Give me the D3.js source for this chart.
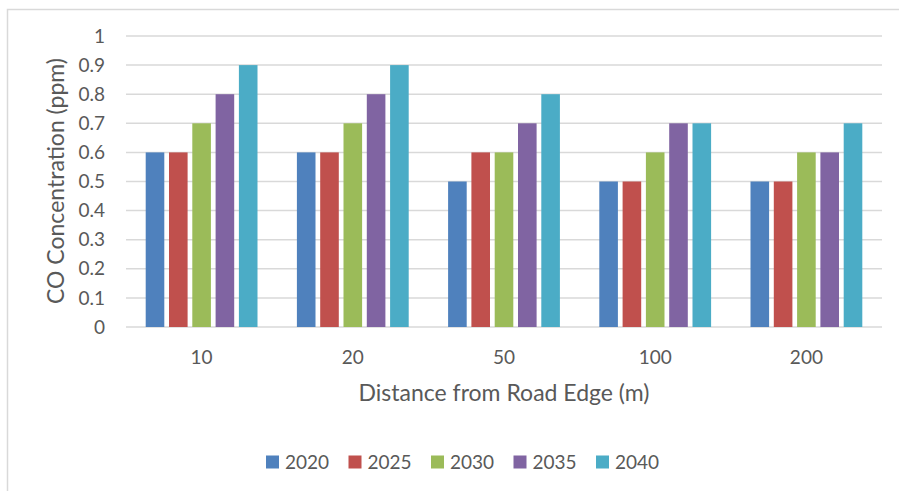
<!DOCTYPE html>
<html>
<head>
<meta charset="utf-8">
<script src="https://cdn.jsdelivr.net/npm/d3@7"></script>
<style>
  body { margin: 0; background: #fff; }
  text { font-family: Lato, "Open Sans", sans-serif; fill: #595959; }
</style>
</head>
<body>
<svg id="chart" width="899" height="491"></svg>
<script>
const distances = ['10', '20', '50', '100', '200'];
const years = ['2020', '2025', '2030', '2035', '2040'];
const colors = ['#4F81BD', '#C0504D', '#9BBB59', '#8064A2', '#4BACC6'];
// values per year, one per distance
const v2020 = [0.6, 0.6, 0.5, 0.5, 0.5];
const v2025 = [0.6, 0.6, 0.6, 0.5, 0.5];
const v2030 = [0.7, 0.7, 0.6, 0.6, 0.6];
const v2035 = [0.8, 0.8, 0.7, 0.7, 0.6];
const v2040 = [0.9, 0.9, 0.8, 0.7, 0.7];
const yTicks = [0, 0.1, 0.2, 0.3, 0.4, 0.5, 0.6, 0.7, 0.8, 0.9, 1];

const series = [v2020, v2025, v2030, v2035, v2040];

var svg = d3.select('#chart');

// chart frame (only left/top edges visible in the crop)
svg.append('rect')
  .attr('x', 7.5).attr('y', 9.5)
  .attr('width', 910).attr('height', 500)
  .attr('fill', 'none')
  .attr('stroke', '#d9d9d9')
  .attr('stroke-width', 1.5);

var plotLeft = 126, plotRight = 882, plotTop = 36, plotBottom = 327;

var x = d3.scaleBand().domain(distances).range([plotLeft, plotRight]).paddingInner(0).paddingOuter(0);
var y = d3.scaleLinear().domain([0, 1]).range([plotBottom, plotTop]);

// gridlines
svg.append('g')
  .selectAll('line')
  .data(yTicks)
  .enter()
  .append('line')
  .attr('x1', plotLeft).attr('x2', plotRight)
  .attr('y1', d => y(d)).attr('y2', d => y(d))
  .attr('stroke', '#d9d9d9')
  .attr('stroke-width', 1.5);

// y tick labels
svg.append('g')
  .selectAll('text')
  .data(yTicks)
  .enter()
  .append('text')
  .attr('x', 105)
  .attr('y', d => y(d))
  .attr('dy', '0.35em')
  .attr('text-anchor', 'end')
  .style('font-size', '19px')
  .text(d => String(+d.toFixed(1)));

// bars
var step = 23.3, barW = 18.6;
var inner = d3.scaleBand().domain(years).range([0, step * years.length]);
var groupOffset = (x.bandwidth() - step * years.length) / 2;

years.forEach(function(yr, i) {
  svg.append('g')
    .selectAll('rect')
    .data(series[i])
    .enter()
    .append('rect')
    .attr('x', (d, j) => x(distances[j]) + groupOffset + inner(yr) + (step - barW) / 2)
    .attr('y', d => y(d))
    .attr('width', barW)
    .attr('height', d => plotBottom - y(d))
    .attr('fill', colors[i]);
});

// x tick labels
svg.append('g')
  .selectAll('text')
  .data(distances)
  .enter()
  .append('text')
  .attr('x', d => x(d) + x.bandwidth() / 2)
  .attr('y', 357)
  .attr('dy', '0.35em')
  .attr('text-anchor', 'middle')
  .style('font-size', '19px')
  .text(d => d);

// axis titles
svg.append('text')
  .attr('x', 504).attr('y', 393)
  .attr('dy', '0.35em')
  .attr('text-anchor', 'middle')
  .style('font-size', '23px')
  .text('Distance from Road Edge (m)');

svg.append('text')
  .attr('transform', 'translate(56,181) rotate(-90)')
  .attr('dy', '0.35em')
  .attr('text-anchor', 'middle')
  .style('font-size', '23px')
  .text('CO Concentration (ppm)');

// legend
var legend = svg.append('g')
  .selectAll('g')
  .data(years)
  .enter()
  .append('g')
  .attr('transform', (d, i) => 'translate(' + (266 + i * 82.5) + ',462)');

legend.append('rect')
  .attr('x', 0).attr('y', -6.5)
  .attr('width', 13).attr('height', 13)
  .attr('fill', (d, i) => colors[i]);

legend.append('text')
  .attr('x', 19).attr('y', 0)
  .attr('dy', '0.35em')
  .style('font-size', '19px')
  .text(d => d);
</script>
</body>
</html>
